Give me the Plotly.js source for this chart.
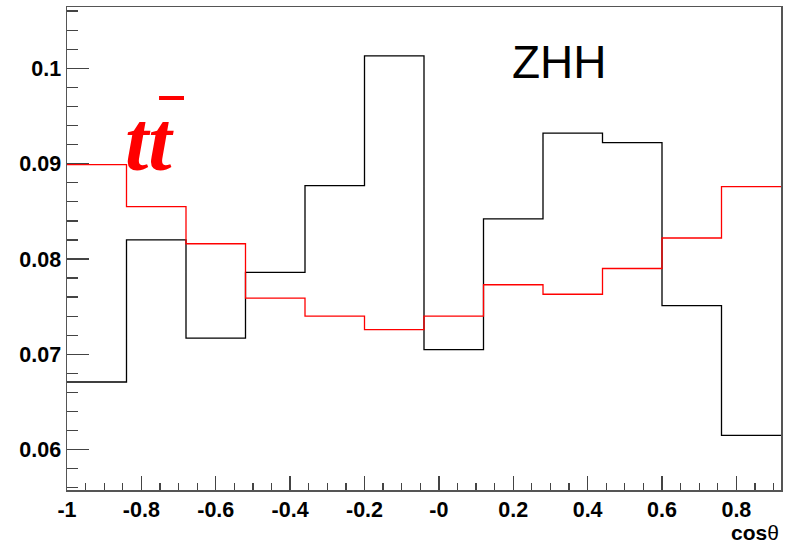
<!DOCTYPE html>
<html>
<head>
<meta charset="utf-8">
<script src="https://cdn.plot.ly/plotly-3.0.1.min.js"></script>
<style>html,body{margin:0;padding:0;background:#fff;}#chart{width:790px;height:543px;}</style>
</head>
<body>
<div id="chart"></div>
<script>
// bin edges of cos(theta)
var binEdges = [-1.0, -0.84, -0.68, -0.52, -0.36, -0.20, -0.04, 0.12, 0.28, 0.44, 0.60, 0.76, 0.92];
// ZHH (black) normalized entries per bin
var zhhValues = [0.0671, 0.0820, 0.0717, 0.0786, 0.0877, 0.1013, 0.0705, 0.0842, 0.0932, 0.0922, 0.0751, 0.0615];
// ttbar (red) normalized entries per bin
var ttValues = [0.0899, 0.0855, 0.0816, 0.0759, 0.0740, 0.0726, 0.0740, 0.0773, 0.0763, 0.0790, 0.0822, 0.0876];
// tick labels
var xTickVals = [-1, -0.8, -0.6, -0.4, -0.2, 0, 0.2, 0.4, 0.6, 0.8];
var xTickText = ['-1', '-0.8', '-0.6', '-0.4', '-0.2', '-0', '0.2', '0.4', '0.6', '0.8'];
var yTickVals = [0.06, 0.07, 0.08, 0.09, 0.1];
var yTickText = ['0.06', '0.07', '0.08', '0.09', '0.1'];

function stepY(vals) { return vals.concat([vals[vals.length - 1]]); }

var traces = [
  {x: binEdges, y: stepY(zhhValues), mode: 'lines', line: {shape: 'hv', color: '#000000', width: 1.3}, hoverinfo: 'skip'},
  {x: binEdges, y: stepY(ttValues), mode: 'lines', line: {shape: 'hv', color: '#ff0000', width: 1.3}, hoverinfo: 'skip'}
];

var tickFont = {family: 'Liberation Sans, Arial, sans-serif', size: 21.5, color: '#000', weight: 'bold'};

var layout = {
  width: 790, height: 543,
  margin: {l: 67, r: 9, t: 7, b: 53},
  paper_bgcolor: '#ffffff', plot_bgcolor: '#ffffff',
  showlegend: false,
  xaxis: {
    range: [-1, 0.92], showgrid: false, zeroline: false,
    showline: true, mirror: true, linecolor: '#555', linewidth: 1.5,
    ticks: 'inside', ticklen: 14, tickwidth: 1.3, tickcolor: '#444',
    tickmode: 'array', tickvals: xTickVals, ticktext: xTickText,
    tickfont: tickFont,
    minor: {dtick: 0.05, tick0: 0, ticks: 'inside', ticklen: 7, tickwidth: 1.3, tickcolor: '#444', showgrid: false}
  },
  yaxis: {
    range: [0.05577, 0.10643], showgrid: false, zeroline: false,
    showline: true, mirror: true, linecolor: '#555', linewidth: 1.5,
    ticks: 'inside', ticklen: 22, tickwidth: 1.3, tickcolor: '#444',
    tickmode: 'array', tickvals: yTickVals, ticktext: yTickText,
    tickfont: tickFont,
    minor: {dtick: 0.002, tick0: 0, ticks: 'inside', ticklen: 11, tickwidth: 1.3, tickcolor: '#444', showgrid: false}
  },
  annotations: [
    {xref: 'paper', yref: 'paper', x: 0.621, y: 0.886, xanchor: 'left', yanchor: 'middle', showarrow: false,
     text: 'ZHH', font: {family: 'Liberation Sans, Arial, sans-serif', size: 46, color: '#000'}},
    {xref: 'paper', yref: 'paper', x: 0.079, y: 0.722, xanchor: 'left', yanchor: 'middle', showarrow: false,
     text: 'tt', font: {family: 'Liberation Serif, Times New Roman, serif', size: 84, color: '#ff0000', style: 'italic', weight: 'bold'}},
    {xref: 'paper', yref: 'paper', x: 1.0, y: -0.089, xanchor: 'right', yanchor: 'middle', showarrow: false,
     text: '<b>cos</b>θ', font: {family: 'Liberation Sans, Arial, sans-serif', size: 21, color: '#000'}}
  ],
  shapes: [
    {type: 'line', xref: 'paper', yref: 'paper', x0: 0.1289, x1: 0.1639, y0: 0.8116, y1: 0.8116,
     line: {color: '#ff0000', width: 4}}
  ]
};

Plotly.newPlot('chart', traces, layout, {displayModeBar: false, staticPlot: true});
</script>
</body>
</html>
